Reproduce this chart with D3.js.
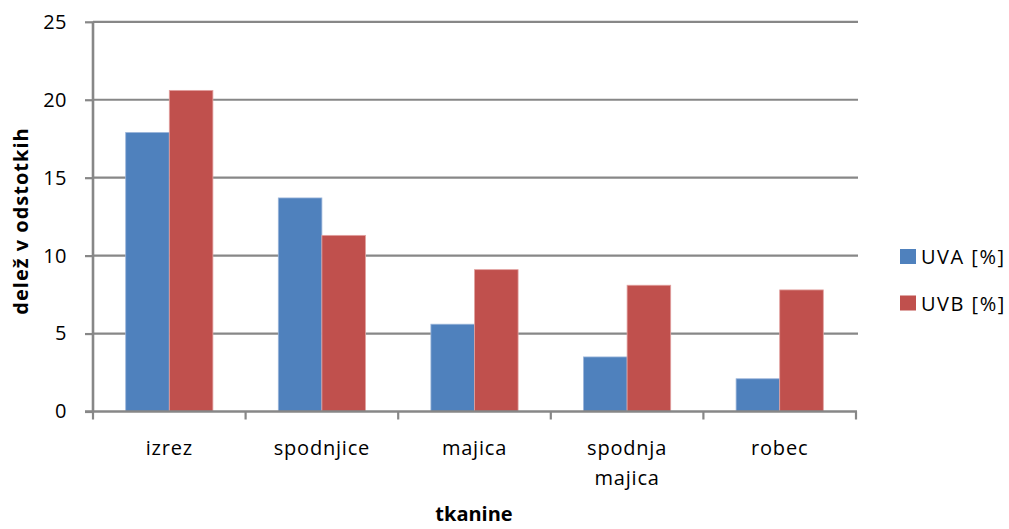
<!DOCTYPE html>
<html>
<head>
<meta charset="utf-8">
<script src="https://cdn.jsdelivr.net/npm/d3@7"></script>
<style>
  body { margin: 0; background: #fff; }
  svg text { font-family: "Open Sans", "Noto Sans", sans-serif; fill: #000; }
</style>
</head>
<body>
<svg id="chart" width="1009" height="529"></svg>
<script>
// Deleži UV prepustnosti po tkaninah
const categories = [["izrez"], ["spodnjice"], ["majica"], ["spodnja", "majica"], ["robec"]];
const seriesNames = ["UVA [%]", "UVB [%]"];
const uva = [17.9, 13.7, 5.6, 3.5, 2.1];
const uvb = [20.6, 11.3, 9.1, 8.1, 7.8];
const yTicks = [0, 5, 10, 15, 20, 25];
const colors = ["#4F81BD", "#C0504D"];
const strokes = ["#9BB5DA", "#E2A2A0"];

const svg = d3.select("#chart");
const plotLeft = 93, plotRight = 856, plotTop = 21.8, plotBottom = 411.5;

const x = d3.scaleBand().domain(d3.range(categories.length)).range([plotLeft, plotRight]).paddingInner(0).paddingOuter(0);
const xs = d3.scaleBand().domain([0, 1]).range([0, x.bandwidth()]).paddingInner(0).paddingOuter(0.75);
const y = d3.scaleLinear().domain([0, 25]).range([plotBottom, plotTop]);

// gridlines
svg.append("g").selectAll("line").data(yTicks.filter(d => d > 0)).join("line")
  .attr("x1", plotLeft).attr("x2", plotRight + 2)
  .attr("y1", d => y(d)).attr("y2", d => y(d))
  .attr("stroke", "#878787").attr("stroke-width", 2.2);

// bars
const series = [uva, uvb];
series.forEach((vals, si) => {
  svg.append("g").selectAll("rect").data(vals).join("rect")
    .attr("x", (d, i) => x(i) + xs(si))
    .attr("width", xs.bandwidth())
    .attr("y", d => y(d))
    .attr("height", d => y(0) - y(d))
    .attr("fill", colors[si])
    .attr("stroke", strokes[si]).attr("stroke-width", 0.8);
});

// y axis
const yAxis = d3.axisLeft(y).tickValues(yTicks).tickSize(8).tickPadding(18).tickFormat(d3.format("d"));
const gy = svg.append("g").attr("transform", `translate(${plotLeft},0)`).call(yAxis);
gy.select(".domain").attr("stroke", "#878787").attr("stroke-width", 2.6).attr("d", `M0,${plotTop}V${plotBottom}`);
gy.selectAll(".tick line").attr("stroke", "#878787").attr("stroke-width", 2.2);
gy.selectAll(".tick text").attr("font-size", 20).attr("font-family", "'Open Sans', sans-serif")
  .attr("fill", "#000").attr("letter-spacing", 0.5);

// x axis
const xBound = d3.scaleLinear().domain([0, categories.length]).range([plotLeft, plotRight]);
const gx = svg.append("g");
gx.append("line").attr("x1", plotLeft - 8).attr("x2", plotRight + 1).attr("y1", plotBottom).attr("y2", plotBottom)
  .attr("stroke", "#878787").attr("stroke-width", 2.6);
gx.selectAll("line.tk").data(d3.range(categories.length + 1)).join("line").attr("class", "tk")
  .attr("x1", d => xBound(d)).attr("x2", d => xBound(d))
  .attr("y1", plotBottom).attr("y2", plotBottom + 8)
  .attr("stroke", "#878787").attr("stroke-width", 2.2);
gx.selectAll("text.cat").data(categories).join("text").attr("class", "cat")
  .attr("x", (d, i) => x(i) + x.bandwidth() / 2)
  .attr("y", 455)
  .attr("text-anchor", "middle")
  .attr("font-size", 20).attr("letter-spacing", 0.8)
  .each(function(d) {
    const cx = d3.select(this).attr("x");
    d3.select(this).selectAll("tspan").data(d).join("tspan")
      .attr("x", cx)
      .attr("dy", (t, j) => j === 0 ? 0 : 30)
      .text(t => t);
  });

// axis titles
svg.append("text").attr("x", 474).attr("y", 521).attr("text-anchor", "middle")
  .attr("font-size", 20).attr("font-weight", "bold").text("tkanine");
svg.append("text").attr("transform", "translate(28,221) rotate(-90)").attr("text-anchor", "middle")
  .attr("font-size", 20).attr("font-weight", "bold").attr("letter-spacing", 1).text("delež v odstotkih");

// legend
const lg = svg.append("g");
seriesNames.forEach((name, i) => {
  const ly = 249 + i * 46.5;
  lg.append("rect").attr("x", 900).attr("y", ly).attr("width", 16).attr("height", 15).attr("fill", colors[i]);
  lg.append("text").attr("x", 921).attr("y", ly + 15).attr("font-size", 20).attr("letter-spacing", 1.5).text(name);
});
</script>
</body>
</html>
